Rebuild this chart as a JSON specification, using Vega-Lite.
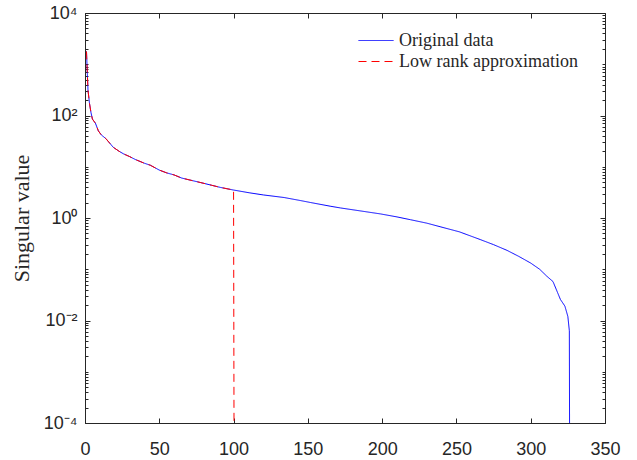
{
  "$schema": "https://vega.github.io/schema/vega-lite/v6.json",
  "width": 520,
  "height": 410,
  "autosize": {"type": "none"},
  "padding": {"left": 85, "top": 13, "right": 32, "bottom": 37},
  "background": "white",
  "config": {
    "view": {"stroke": "#262626", "strokeWidth": 1},
    "axis": {"labelFont": "Liberation Sans", "labelFontSize": 18, "labelColor": "#262626", "tickColor": "#262626", "domainColor": "#262626", "grid": false}
  },
  "data": {"values": [
    {"x": 1, "v": 1778, "s": "Original data"},
    {"x": 2, "v": 316, "s": "Original data"},
    {"x": 3, "v": 174, "s": "Original data"},
    {"x": 4, "v": 115, "s": "Original data"},
    {"x": 5, "v": 85, "s": "Original data"},
    {"x": 7, "v": 70.8, "s": "Original data"},
    {"x": 9, "v": 50.1, "s": "Original data"},
    {"x": 11, "v": 41.7, "s": "Original data"},
    {"x": 14, "v": 35.5, "s": "Original data"},
    {"x": 19, "v": 24.0, "s": "Original data"},
    {"x": 23, "v": 20.0, "s": "Original data"},
    {"x": 26, "v": 17.8, "s": "Original data"},
    {"x": 30, "v": 15.8, "s": "Original data"},
    {"x": 34, "v": 13.8, "s": "Original data"},
    {"x": 40, "v": 11.7, "s": "Original data"},
    {"x": 44, "v": 10.7, "s": "Original data"},
    {"x": 50, "v": 8.61, "s": "Original data"},
    {"x": 55, "v": 7.59, "s": "Original data"},
    {"x": 60, "v": 6.92, "s": "Original data"},
    {"x": 65, "v": 6.03, "s": "Original data"},
    {"x": 70, "v": 5.56, "s": "Original data"},
    {"x": 78, "v": 4.90, "s": "Original data"},
    {"x": 85, "v": 4.37, "s": "Original data"},
    {"x": 91, "v": 3.96, "s": "Original data"},
    {"x": 100, "v": 3.51, "s": "Original data"},
    {"x": 111, "v": 3.09, "s": "Original data"},
    {"x": 120, "v": 2.82, "s": "Original data"},
    {"x": 134, "v": 2.51, "s": "Original data"},
    {"x": 145, "v": 2.19, "s": "Original data"},
    {"x": 152, "v": 2.00, "s": "Original data"},
    {"x": 165, "v": 1.70, "s": "Original data"},
    {"x": 172, "v": 1.57, "s": "Original data"},
    {"x": 185, "v": 1.38, "s": "Original data"},
    {"x": 199, "v": 1.20, "s": "Original data"},
    {"x": 210, "v": 1.05, "s": "Original data"},
    {"x": 219, "v": 0.927, "s": "Original data"},
    {"x": 230, "v": 0.794, "s": "Original data"},
    {"x": 239, "v": 0.676, "s": "Original data"},
    {"x": 252, "v": 0.537, "s": "Original data"},
    {"x": 266, "v": 0.380, "s": "Original data"},
    {"x": 275, "v": 0.302, "s": "Original data"},
    {"x": 284, "v": 0.234, "s": "Original data"},
    {"x": 292, "v": 0.178, "s": "Original data"},
    {"x": 300, "v": 0.132, "s": "Original data"},
    {"x": 306, "v": 0.100, "s": "Original data"},
    {"x": 311, "v": 0.0724, "s": "Original data"},
    {"x": 315, "v": 0.0575, "s": "Original data"},
    {"x": 318, "v": 0.0355, "s": "Original data"},
    {"x": 320, "v": 0.0257, "s": "Original data"},
    {"x": 323, "v": 0.0191, "s": "Original data"},
    {"x": 325, "v": 0.0120, "s": "Original data"},
    {"x": 326, "v": 0.0063, "s": "Original data"},
    {"x": 327, "v": 1e-15, "s": "Original data"},
    {"x": 1, "v": 1778, "s": "Low rank approximation"},
    {"x": 2, "v": 316, "s": "Low rank approximation"},
    {"x": 3, "v": 174, "s": "Low rank approximation"},
    {"x": 4, "v": 115, "s": "Low rank approximation"},
    {"x": 5, "v": 85, "s": "Low rank approximation"},
    {"x": 7, "v": 70.8, "s": "Low rank approximation"},
    {"x": 9, "v": 50.1, "s": "Low rank approximation"},
    {"x": 11, "v": 41.7, "s": "Low rank approximation"},
    {"x": 14, "v": 35.5, "s": "Low rank approximation"},
    {"x": 19, "v": 24.0, "s": "Low rank approximation"},
    {"x": 23, "v": 20.0, "s": "Low rank approximation"},
    {"x": 26, "v": 17.8, "s": "Low rank approximation"},
    {"x": 30, "v": 15.8, "s": "Low rank approximation"},
    {"x": 34, "v": 13.8, "s": "Low rank approximation"},
    {"x": 40, "v": 11.7, "s": "Low rank approximation"},
    {"x": 44, "v": 10.7, "s": "Low rank approximation"},
    {"x": 50, "v": 8.61, "s": "Low rank approximation"},
    {"x": 55, "v": 7.59, "s": "Low rank approximation"},
    {"x": 60, "v": 6.92, "s": "Low rank approximation"},
    {"x": 65, "v": 6.03, "s": "Low rank approximation"},
    {"x": 70, "v": 5.56, "s": "Low rank approximation"},
    {"x": 78, "v": 4.90, "s": "Low rank approximation"},
    {"x": 85, "v": 4.37, "s": "Low rank approximation"},
    {"x": 91, "v": 3.96, "s": "Low rank approximation"},
    {"x": 100, "v": 3.51, "s": "Low rank approximation"},
    {"x": 101, "v": 1e-15, "s": "Low rank approximation"}
  ]},
  "resolve": {"axis": {"x": "independent", "y": "independent"}},
  "layer": [
    {
      "transform": [{"filter": "datum.s === 'Original data'"}],
      "mark": {"type": "line", "clip": true, "strokeWidth": 1},
      "encoding": {
        "x": {"field": "x", "type": "quantitative", "scale": {"domain": [0, 350], "nice": false, "zero": false},
              "axis": {"orient": "bottom", "values": [0, 50, 100, 150, 200, 250, 300, 350], "tickSize": -5, "labelPadding": 22, "title": null, "labelFlush": false}},
        "y": {"field": "v", "type": "quantitative", "scale": {"type": "log", "domain": [0.0001, 10000], "nice": false},
              "axis": {"orient": "left", "values": [0.0001, 0.01, 1, 100, 10000], "tickSize": -5, "labelPadding": 13,
                       "labelExpr": "datum.value >= 9999 ? '10⁴' : datum.value >= 99 ? '10²' : datum.value >= 0.99 ? '10⁰' : datum.value >= 0.0099 ? '10⁻²' : '10⁻⁴'",
                       "title": "Singular value", "titleFont": "Liberation Serif", "titleFontSize": 22, "titleFontWeight": "normal", "titleColor": "#262626", "titlePadding": 10}},
        "color": {"field": "s", "type": "nominal", "scale": {"domain": ["Original data", "Low rank approximation"], "range": ["#0000ff", "#ff0000"]},
                  "legend": {"title": null, "orient": "none", "legendX": 273, "legendY": 17, "symbolType": "stroke", "symbolSize": 1225, "symbolStrokeWidth": 1,
                             "labelFont": "Liberation Serif", "labelFontSize": 18, "labelColor": "#262626", "labelOffset": 5, "labelLimit": 400, "rowPadding": 0, "clipHeight": 21, "padding": 0}},
        "strokeDash": {"field": "s", "type": "nominal", "scale": {"domain": ["Original data", "Low rank approximation"], "range": [[1, 0], [8, 5]]},
                  "legend": {"title": null, "orient": "none", "legendX": 273, "legendY": 17, "symbolType": "stroke", "symbolSize": 1225, "symbolStrokeWidth": 1,
                             "labelFont": "Liberation Serif", "labelFontSize": 18, "labelColor": "#262626", "labelOffset": 5, "labelLimit": 400, "rowPadding": 0, "clipHeight": 21, "padding": 0}}
      }
    },
    {
      "transform": [{"filter": "datum.s === 'Low rank approximation'"}],
      "mark": {"type": "line", "clip": true, "strokeWidth": 1},
      "encoding": {
        "x": {"field": "x", "type": "quantitative", "axis": null},
        "y": {"field": "v", "type": "quantitative", "axis": null},
        "color": {"field": "s", "type": "nominal"},
        "strokeDash": {"field": "s", "type": "nominal"}
      }
    },
    {
      "mark": {"type": "point", "opacity": 0},
      "encoding": {
        "x": {"field": "x", "type": "quantitative",
              "axis": {"orient": "top", "values": [0, 50, 100, 150, 200, 250, 300, 350], "tickSize": -5, "labels": false, "title": null, "domain": false}},
        "y": {"field": "v", "type": "quantitative",
              "axis": {"orient": "right", "values": [0.0001, 0.01, 1, 100, 10000], "tickSize": -5, "labels": false, "title": null, "domain": false}}
      }
    },
    {
      "mark": {"type": "point", "opacity": 0},
      "encoding": {
        "x": {"field": "x", "type": "quantitative", "axis": null},
        "y": {"field": "v", "type": "quantitative",
              "axis": {"orient": "left", "tickSize": -3, "labels": false, "title": null, "domain": false,
                       "values": [0.0002,0.0003,0.0004,0.0005,0.0006,0.0007,0.0008,0.0009,0.001,0.002,0.003,0.004,0.005,0.006,0.007,0.008,0.009,0.02,0.03,0.04,0.05,0.06,0.07,0.08,0.09,0.1,0.2,0.3,0.4,0.5,0.6,0.7,0.8,0.9,2,3,4,5,6,7,8,9,10,20,30,40,50,60,70,80,90,200,300,400,500,600,700,800,900,1000,2000,3000,4000,5000,6000,7000,8000,9000]}}
      }
    },
    {
      "mark": {"type": "point", "opacity": 0},
      "encoding": {
        "x": {"field": "x", "type": "quantitative", "axis": null},
        "y": {"field": "v", "type": "quantitative",
              "axis": {"orient": "right", "tickSize": -3, "labels": false, "title": null, "domain": false,
                       "values": [0.0002,0.0003,0.0004,0.0005,0.0006,0.0007,0.0008,0.0009,0.001,0.002,0.003,0.004,0.005,0.006,0.007,0.008,0.009,0.02,0.03,0.04,0.05,0.06,0.07,0.08,0.09,0.1,0.2,0.3,0.4,0.5,0.6,0.7,0.8,0.9,2,3,4,5,6,7,8,9,10,20,30,40,50,60,70,80,90,200,300,400,500,600,700,800,900,1000,2000,3000,4000,5000,6000,7000,8000,9000]}}
      }
    }
  ]
}
